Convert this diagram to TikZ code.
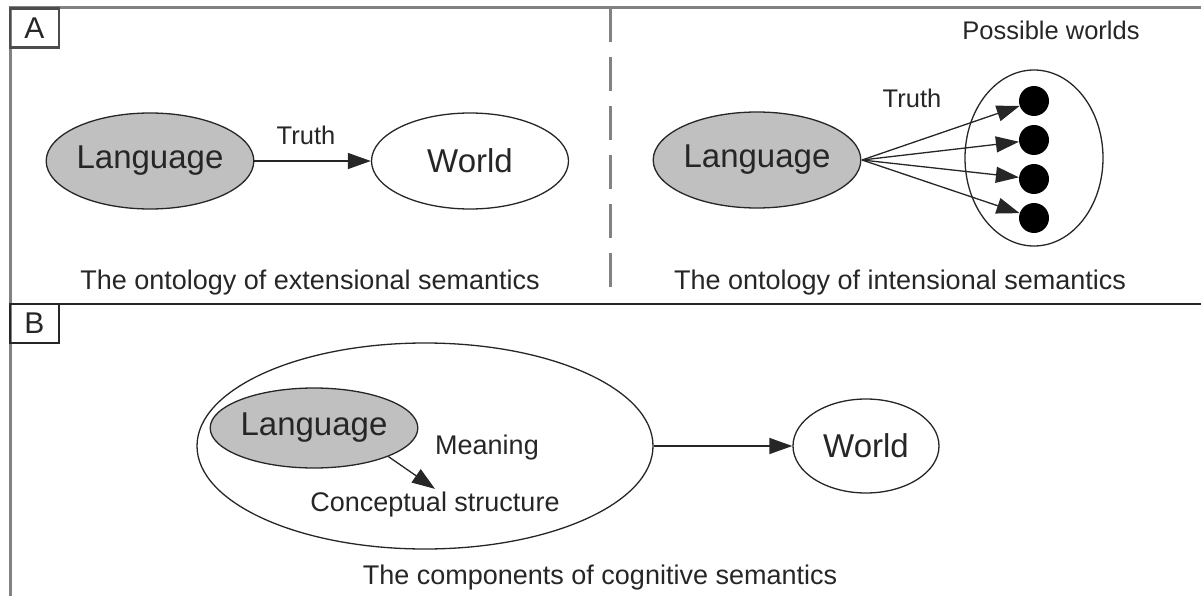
\documentclass[tikz,border=0pt]{standalone}
\usepackage{fontspec}
\setmainfont{Liberation Sans}
\usetikzlibrary{positioning,arrows.meta,shapes.geometric}
\definecolor{langgray}{RGB}{192,192,192}
\definecolor{framegray}{RGB}{130,130,130}

\begin{document}
\begin{tikzpicture}[x=1pt,y=-1pt,
  oval/.style={ellipse,draw=black!85,line width=1.3pt,inner sep=0pt},
  lang/.style={oval,fill=langgray,minimum width=195pt,minimum height=96pt,
    text=black!85,font=\fontsize{33}{38}\selectfont},
  world/.style={oval,fill=white,minimum width=197pt,minimum height=96pt,
    text=black!85,font=\fontsize{33}{38}\selectfont},
  small/.style={text=black!85,font=\fontsize{27}{32}\selectfont},
  tag/.style={text=black!85,font=\fontsize{25.5}{30}\selectfont},
  dot/.style={circle,fill=black,minimum size=30pt,inner sep=0pt},
  panel/.style={draw,minimum width=49pt,minimum height=39pt,inner sep=0pt,
    text=black!85,font=\fontsize{30}{34}\selectfont},
  arr/.style={-{Triangle[length=23pt,width=16pt]},line width=1.3pt,black!85}]
  \useasboundingbox (0,0) rectangle (1201,596);

  % Frame and separators
  \draw[framegray,line width=3pt] (1201,8) -- (10,8) -- (10,596);
  \draw[framegray,line width=3pt,dash pattern=on 34pt off 15pt] (610,8) -- (610,288);
  \draw[black!85,line width=2pt] (10,304) -- (1201,304);
  \node[panel,line width=2.5pt,draw=black!70] (boxA) at (34.5,28) {A};
  \node[panel,line width=1.5pt,draw=black!85] (boxB) at (34.5,323.5) {B};

  % A, left: extensional semantics
  \node[lang]  (langE)  at (150,161) {Language};
  \node[world] (worldE) at (470,161) {World};
  \draw[arr] (langE) -- (worldE);
  \node[tag] (truthE) at (306,135) {Truth};
  \node[small] (capE) at (310,283) {The ontology of extensional semantics};

  % A, right: intensional semantics, one arrow per possible world
  \node[lang] (langI) at (757,160) {Language};
  \coordinate (fan) at (862,160);
  \node[oval,minimum width=138pt,minimum height=176pt] (worlds) at (1034,158) {};
  \foreach \i/\y in {1/101,2/140,3/179,4/218}
    \node[dot] (w\i) at (1034,\y) {};
  \foreach \i in {1,...,4}
    \draw[arr] (fan) -- (w\i);
  \node[tag] (truthI) at (912,98) {Truth};
  \node[tag] (pw) at (1051,30) {Possible worlds};
  \node[small] (capI) at (900,283) {The ontology of intensional semantics};

  % B: cognitive semantics
  \node[oval,minimum width=456pt,minimum height=206pt] (mind) at (425,446) {};
  \node[lang,minimum height=80pt] (langC) at (314,428) {Language};
  \node[small] (meaning) at (487,448) {Meaning};
  \node[small] (concept) at (435,505) {Conceptual structure};
  \draw[arr] (langC.-21) -- (concept.north);
  \node[world,minimum width=146pt,minimum height=94pt] (worldC) at (866,446) {World};
  \draw[arr] (mind) -- (worldC);
  \node[small] (capC) at (600,578) {The components of cognitive semantics};
\end{tikzpicture}
\end{document}
